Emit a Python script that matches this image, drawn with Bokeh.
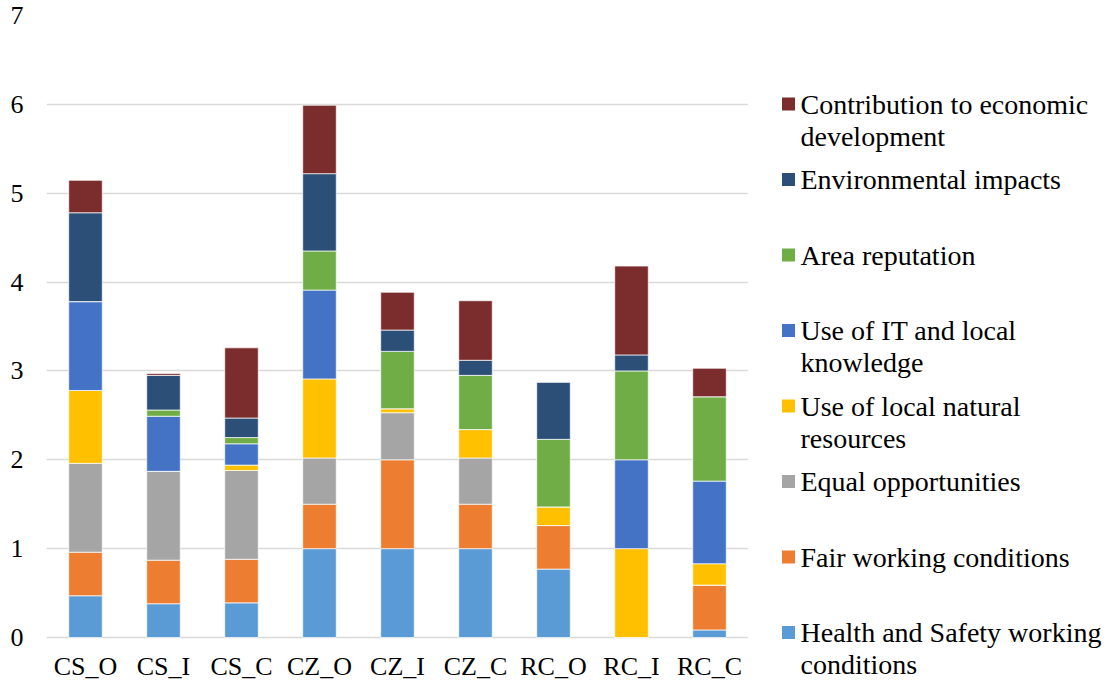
from bokeh.plotting import figure
from bokeh.layouts import row
from bokeh.models import Range1d, FixedTicker, ColumnDataSource, FactorRange
from bokeh.core.properties import value
from bokeh.embed import file_html
from bokeh.resources import INLINE

# ---------------- data ----------------
categories = ["CS_O", "CS_I", "CS_C", "CZ_O", "CZ_I", "CZ_C", "RC_O", "RC_I", "RC_C"]

health = [0.47, 0.38, 0.39, 1.00, 1.00, 1.00, 0.77, 0.00, 0.085]
fair = [0.49, 0.49, 0.49, 0.50, 1.00, 0.50, 0.49, 0.00, 0.505]
equal = [1.00, 1.00, 1.00, 0.52, 0.53, 0.52, 0.00, 0.00, 0.00]
natural = [0.82, 0.00, 0.06, 0.89, 0.045, 0.32, 0.21, 1.00, 0.24]
it_local = [1.00, 0.62, 0.24, 1.00, 0.00, 0.00, 0.00, 1.00, 0.93]
area = [0.00, 0.07, 0.07, 0.44, 0.645, 0.61, 0.76, 1.00, 0.95]
environment = [1.00, 0.39, 0.22, 0.87, 0.24, 0.17, 0.645, 0.18, 0.00]
contribution = [0.365, 0.02, 0.79, 0.77, 0.425, 0.67, 0.00, 1.00, 0.32]

series_names = [
    "Health and Safety working\nconditions",
    "Fair working conditions",
    "Equal opportunities",
    "Use of local natural\nresources",
    "Use of IT and local\nknowledge",
    "Area reputation",
    "Environmental impacts",
    "Contribution to economic\ndevelopment",
]
series_values = [health, fair, equal, natural, it_local, area, environment, contribution]
colors = ["#5B9BD5", "#ED7D31", "#A5A5A5", "#FFC000", "#4472C4", "#70AD47", "#2C4F78", "#7B2C2C"]

y_ticks = [0, 1, 2, 3, 4, 5, 6, 7]

# ---------------- layout constants (pixels) ----------------
FONT = "Liberation Serif"
FIG_H, TOTAL_W = 681, 1102
FRAME_L, FRAME_R = 46, 748
TOP_PX, ZERO_PX = 15, 637          # pixel rows of the top tick and of zero
LABEL_DROP = 29                    # category label centre below the zero line
unit = (ZERO_PX - TOP_PX) / (y_ticks[-1] - y_ticks[0])
y_start = y_ticks[0] - (FIG_H - ZERO_PX) / unit

# ---------------- main chart ----------------
keys = ["s%d" % i for i in range(len(series_values))]
data = {"cat": categories, "zero": [0] * len(categories)}
for k, v in zip(keys, series_values):
    data[k] = v
src = ColumnDataSource(data)

p = figure(x_range=FactorRange(*categories, range_padding=0),
           y_range=Range1d(y_start, y_ticks[-1]),
           width=FRAME_R, height=FIG_H, x_axis_location=None,
           output_backend="svg", toolbar_location=None, title=None,
           min_border_left=FRAME_L, min_border_right=0,
           min_border_top=TOP_PX, min_border_bottom=0)
p.vbar_stack(keys, x="cat", width=0.43, color=colors, source=src,
             line_color="white", line_width=0.7)
# category labels under the zero line
p.text(x="cat", y="zero", text="cat", source=src, y_offset=LABEL_DROP,
       text_align="center", text_baseline="middle",
       text_font=value(FONT), text_font_size="26px", text_color="black")

p.outline_line_color = None
p.xgrid.grid_line_color = None
p.ygrid.ticker = FixedTicker(ticks=y_ticks)
p.ygrid.grid_line_color = "#d9d9d9"
p.ygrid.grid_line_width = 1.5
p.yaxis.ticker = FixedTicker(ticks=y_ticks)
p.yaxis.axis_line_color = None
p.yaxis.major_tick_out = 0
p.yaxis.major_tick_in = 0
p.yaxis.minor_tick_out = 0
p.yaxis.minor_tick_in = 0
p.yaxis.major_label_standoff = 23
p.yaxis.axis_label = None
p.yaxis.major_label_text_font = FONT
p.yaxis.major_label_text_font_size = "26px"
p.yaxis.major_label_text_color = "black"

# ---------------- legend panel (coordinates = picture pixels) ----------------
lg = figure(width=TOTAL_W - FRAME_R, height=FIG_H,
            x_range=Range1d(FRAME_R, TOTAL_W), y_range=Range1d(FIG_H, TOP_PX),
            output_backend="svg", toolbar_location=None, title=None,
            x_axis_location=None, y_axis_location=None,
            min_border_left=0, min_border_right=0,
            min_border_top=TOP_PX, min_border_bottom=0)
lg.grid.visible = False
lg.outline_line_color = None

leg_y0, leg_step, line_gap = 103.5, 75.5, 32
sq_x, txt_x = 788, 800
mx, my, mc, tx, ty, tt = [], [], [], [], [], []
for i, (name, col) in enumerate(zip(series_names[::-1], colors[::-1])):
    yc = leg_y0 + i * leg_step
    mx.append(sq_x); my.append(yc); mc.append(col)
    for j, line in enumerate(name.split("\n")):
        tx.append(txt_x); ty.append(yc + j * line_gap); tt.append(line)

lg.scatter(x=mx, y=my, color=mc, marker="square", size=13, line_color=None)
lg.text(x=tx, y=ty, text=tt, text_font=value(FONT), text_font_size="28px",
        text_baseline="middle", text_align="left", text_color="black")

layout = row(p, lg)
open("out.html", "w").write(file_html(layout, INLINE))
